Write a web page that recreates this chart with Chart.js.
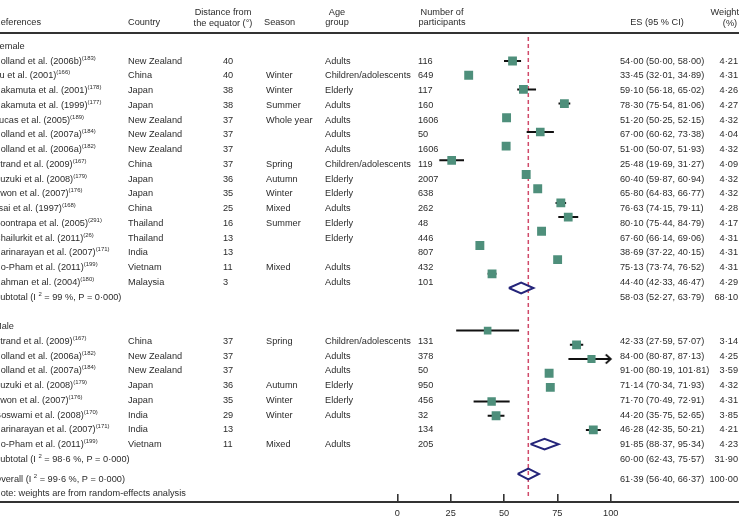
<!DOCTYPE html>
<html>
<head>
<meta charset="utf-8">
<script src="https://cdn.jsdelivr.net/npm/chart.js@4.4.1/dist/chart.umd.min.js"></script>
<style>
  html, body { margin: 0; padding: 0; background: #fff; }
  #wrap { width: 739px; height: 523px; }
</style>
</head>
<body>
<div id="wrap"><canvas id="forest" width="739" height="523"></canvas></div>
<script>
// female studies
const femaleRefs = ['Holland et al. (2006b)', 'Yu et al. (2001)', 'Nakamuta et al. (2001)', 'Nakamuta et al. (1999)',
  'Lucas et al. (2005)', 'Holland et al. (2007a)', 'Holland et al. (2006a)', 'Strand et al. (2009)',
  'Suzuki et al. (2008)', 'Kwon et al. (2007)', 'Tsai et al. (1997)', 'Soontrapa et al. (2005)',
  'Chailurkit et al. (2011)', 'Harinarayan et al. (2007)', 'Ho-Pham et al. (2011)', 'Rahman et al. (2004)'];
const femaleCites = ['183', '166', '178', '177', '189', '184', '182', '167', '179', '176', '168', '291', '26', '171', '199', '180'];
const femaleCountry = ['New Zealand', 'China', 'Japan', 'Japan', 'New Zealand', 'New Zealand', 'New Zealand', 'China',
  'Japan', 'Japan', 'China', 'Thailand', 'Thailand', 'India', 'Vietnam', 'Malaysia'];
const femaleDist = [40, 40, 38, 38, 37, 37, 37, 37, 36, 35, 25, 16, 13, 13, 11, 3];
const femaleSeason = ['', 'Winter', 'Winter', 'Summer', 'Whole year', '', '', 'Spring', 'Autumn', 'Winter', 'Mixed', 'Summer', '', '', 'Mixed', ''];
const femaleAge = ['Adults', 'Children/adolescents', 'Elderly', 'Adults', 'Adults', 'Adults', 'Adults', 'Children/adolescents',
  'Elderly', 'Elderly', 'Adults', 'Elderly', 'Elderly', '', 'Adults', 'Adults'];
const femaleN = [116, 649, 117, 160, 1606, 50, 1606, 119, 2007, 638, 262, 48, 446, 807, 432, 101];
const femaleES = [54.00, 33.45, 59.10, 78.30, 51.20, 67.00, 51.00, 25.48, 60.40, 65.80, 76.63, 80.10, 67.60, 38.69, 75.13, 44.40];
const femaleLo = [50.00, 32.01, 56.18, 75.54, 50.25, 60.62, 50.07, 19.69, 59.87, 64.83, 74.15, 75.44, 66.14, 37.22, 73.74, 42.33];
const femaleHi = [58.00, 34.89, 65.02, 81.06, 52.15, 73.38, 51.93, 31.27, 60.94, 66.77, 79.11, 84.79, 69.06, 40.15, 76.52, 46.47];
const femaleW = [4.21, 4.31, 4.26, 4.27, 4.32, 4.04, 4.32, 4.09, 4.32, 4.32, 4.28, 4.17, 4.31, 4.31, 4.31, 4.29];

// male studies
const maleRefs = ['Strand et al. (2009)', 'Holland et al. (2006a)', 'Holland et al. (2007a)', 'Suzuki et al. (2008)',
  'Kwon et al. (2007)', 'Goswami et al. (2008)', 'Harinarayan et al. (2007)', 'Ho-Pham et al. (2011)'];
const maleCites = ['167', '182', '184', '179', '176', '170', '171', '199'];
const maleCountry = ['China', 'New Zealand', 'New Zealand', 'Japan', 'Japan', 'India', 'India', 'Vietnam'];
const maleDist = [37, 37, 37, 36, 35, 29, 13, 11];
const maleSeason = ['Spring', '', '', 'Autumn', 'Winter', 'Winter', '', 'Mixed'];
const maleAge = ['Children/adolescents', 'Adults', 'Adults', 'Elderly', 'Elderly', 'Adults', '', 'Adults'];
const maleN = [131, 378, 50, 950, 456, 32, 134, 205];
const maleES = [42.33, 84.00, 91.00, 71.14, 71.70, 44.20, 46.28, 91.85];
const maleLo = [27.59, 80.87, 80.19, 70.34, 70.49, 35.75, 42.35, 88.37];
const maleHi = [57.07, 87.13, 101.81, 71.93, 72.91, 52.65, 50.21, 95.34];
const maleW = [3.14, 4.25, 3.59, 4.32, 4.31, 3.85, 4.21, 4.23];

// pooled estimates: female subtotal, male subtotal
const subES = [58.03, 60.00];
const subLo = [52.27, 62.43];
const subHi = [63.79, 75.57];
const subW = [68.10, 31.90];
const subI2 = ['99', '98·6'];
const overallES = 61.39, overallLo = 56.40, overallHi = 66.37, overallW = 100.00;
const overallI2 = '99·6';

const xTicks = [0, 25, 50, 75, 100];

// ---- layout / style ----
const FONT = '"Liberation Sans", Arial, sans-serif';
const FS = 9.2;
const TEXT_COL = '#2b2b2b';
const SQUARE_COL = '#4e8f7b';
const DIAMOND_COL = '#25257a';
const REF_COL = '#d04a6a';
const X_MAX = 100;
const ROW0 = 61, MARK_STEP = 14.19, TEXT_STEP = 14.75;

const fmt = v => v.toFixed(2).replace('.', '·');

const femaleRows = femaleRefs.map((_, i) => i);
const maleRows = maleRefs.map((_, i) => 19 + i);
const subRows = [16, 27];
const overallTextRow = 28.35, noteRow = 29.3, overallMarkRow = 29.1;

const studies = [
  ...femaleES.map((v, i) => ({ es: v, lo: femaleLo[i], hi: femaleHi[i], w: femaleW[i], row: femaleRows[i] })),
  ...maleES.map((v, i) => ({ es: v, lo: maleLo[i], hi: maleHi[i], w: maleW[i], row: maleRows[i] }))
];

const squarePts = studies.map(s => ({ x: s.es, y: s.row }));
const squareR = studies.map(s => 6.3 * Math.sqrt(s.w / 4.32));

const ciPts = [];
studies.forEach(s => {
  ciPts.push({ x: s.lo, y: s.row }, { x: Math.min(s.hi, X_MAX), y: s.row }, { x: null, y: null });
});
const arrowPts = studies.filter(s => s.hi > X_MAX).map(s => ({ x: X_MAX, y: s.row }));

const pooled = [
  { lo: subLo[0], hi: subHi[0], row: subRows[0] },
  { lo: subLo[1], hi: subHi[1], row: subRows[1] },
  { lo: overallLo, hi: overallHi, row: overallMarkRow }
];
const dh = 0.38;
const diamondPts = [];
pooled.forEach(p => {
  const mid = (p.lo + p.hi) / 2;
  diamondPts.push({ x: p.lo, y: p.row }, { x: mid, y: p.row - dh }, { x: p.hi, y: p.row },
    { x: mid, y: p.row + dh }, { x: p.lo, y: p.row }, { x: null, y: null });
});

// arrow head for a CI running past the axis
const arrowImg = document.createElement('canvas');
arrowImg.width = 14; arrowImg.height = 14;
(() => {
  const c = arrowImg.getContext('2d');
  c.strokeStyle = '#111'; c.lineWidth = 1.8;
  c.beginPath(); c.moveTo(2, 2.5); c.lineTo(7, 7); c.lineTo(2, 11.5); c.stroke();
})();

function drawRich(ctx, parts, x, y) {
  let cx = x;
  parts.forEach(p => {
    if (p.sup) {
      ctx.font = `${FS * 0.65}px ${FONT}`;
      ctx.fillText(p.t, cx, y - 3);
    } else {
      ctx.font = `${FS}px ${FONT}`;
      ctx.fillText(p.t, cx, y);
    }
    cx += ctx.measureText(p.t).width;
  });
  ctx.font = `${FS}px ${FONT}`;
}

// row scales: row 0 sits at ROW0 px, each scale with its own row pitch
const rowScalePlugin = {
  id: 'rowScale',
  afterLayout(chart) {
    [['ym', MARK_STEP], ['yt', TEXT_STEP]].forEach(([id, step]) => {
      const s = chart.scales[id];
      s.min = (s.top - ROW0) / step;
      s.max = s.min + (s.bottom - s.top) / step;
      s.configure();
    });
  }
};

const tablePlugin = {
  id: 'table',
  afterDraw(chart) {
    const ctx = chart.ctx;
    const yt = chart.scales.yt;
    const area = chart.chartArea;
    ctx.save();
    ctx.fillStyle = '#333';
    ctx.fillRect(0, 32, 739, 2);
    ctx.fillRect(0, area.bottom + 7, 739, 2);

    ctx.fillStyle = TEXT_COL;
    ctx.textBaseline = 'middle';
    ctx.font = `${FS}px ${FONT}`;
    const put = (t, x, y, align) => { ctx.textAlign = align || 'left'; ctx.fillText(String(t), x, y); };

    // header
    put('References', -6, 22);
    put('Country', 128, 22);
    put('Distance from', 223, 12, 'center');
    put('the equator (°)', 223, 23, 'center');
    put('Season', 264, 22);
    put('Age', 337, 12, 'center');
    put('group', 337, 22, 'center');
    put('Number of', 442, 12, 'center');
    put('participants', 442, 22, 'center');
    put('ES (95 % CI)', 657, 22, 'center');
    put('Weight', 739, 12, 'right');
    put('(%)', 730, 23, 'center');

    const row = (ref, cite, country, dist, season, age, n, es, lo, hi, w, r) => {
      const y = yt.getPixelForValue(r);
      ctx.textAlign = 'left';
      drawRich(ctx, [{ t: ref }, { t: '(' + cite + ')', sup: true }], -6, y);
      put(country, 128, y);
      put(dist, 223, y);
      put(season, 266, y);
      put(age, 325, y);
      put(n, 418, y);
      put(`${fmt(es)} (${fmt(lo)}, ${fmt(hi)})`, 620, y);
      put(fmt(w), 738, y, 'right');
    };

    put('Female', -6, yt.getPixelForValue(-1));
    femaleRefs.forEach((ref, i) => row(ref, femaleCites[i], femaleCountry[i], femaleDist[i], femaleSeason[i],
      femaleAge[i], femaleN[i], femaleES[i], femaleLo[i], femaleHi[i], femaleW[i], femaleRows[i]));
    put('Male', -6, yt.getPixelForValue(18));
    maleRefs.forEach((ref, i) => row(ref, maleCites[i], maleCountry[i], maleDist[i], maleSeason[i],
      maleAge[i], maleN[i], maleES[i], maleLo[i], maleHi[i], maleW[i], maleRows[i]));

    subRows.forEach((r, k) => {
      const y = yt.getPixelForValue(r);
      ctx.textAlign = 'left';
      drawRich(ctx, [{ t: 'Subtotal (I ' }, { t: '2', sup: true }, { t: ` = ${subI2[k]} %, P = 0·000)` }], -6, y);
      put(`${fmt(subES[k])} (${fmt(subLo[k])}, ${fmt(subHi[k])})`, 620, y);
      put(fmt(subW[k]), 738, y, 'right');
    });

    let y = yt.getPixelForValue(overallTextRow);
    ctx.textAlign = 'left';
    drawRich(ctx, [{ t: 'Overall (I ' }, { t: '2', sup: true }, { t: ` = ${overallI2} %, P = 0·000)` }], -6, y);
    put(`${fmt(overallES)} (${fmt(overallLo)}, ${fmt(overallHi)})`, 620, y);
    put(fmt(overallW), 738, y, 'right');
    put('Note: weights are from random-effects analysis', -6, yt.getPixelForValue(noteRow));
    ctx.restore();
  }
};

const canvas = document.getElementById('forest');
new Chart(canvas, {
  type: 'scatter',
  data: {
    datasets: [
      {
        label: 'pooled',
        data: diamondPts,
        showLine: true,
        spanGaps: false,
        borderColor: DIAMOND_COL,
        borderWidth: 2,
        borderJoinStyle: 'miter',
        pointRadius: 0,
        fill: false,
        yAxisID: 'ym',
        order: 0
      },
      {
        label: 'studies',
        data: squarePts,
        pointStyle: 'rect',
        pointRadius: squareR,
        backgroundColor: SQUARE_COL,
        borderColor: SQUARE_COL,
        borderWidth: 0,
        yAxisID: 'ym',
        order: 1
      },
      {
        label: 'arrows',
        data: arrowPts,
        pointStyle: arrowImg,
        yAxisID: 'ym',
        clip: false,
        order: 1
      },
      {
        label: 'ci',
        data: ciPts,
        showLine: true,
        spanGaps: false,
        borderColor: '#111',
        borderWidth: 2,
        pointRadius: 0,
        yAxisID: 'ym',
        order: 2
      },
      {
        label: 'overall',
        data: [{ x: overallES, y: -1.7 }, { x: overallES, y: 30.8 }],
        showLine: true,
        borderColor: REF_COL,
        borderWidth: 1.5,
        borderDash: [4, 3],
        pointRadius: 0,
        yAxisID: 'ym',
        clip: false,
        order: 3
      }
    ]
  },
  options: {
    responsive: false,
    devicePixelRatio: 1,
    animation: false,
    layout: { padding: { left: 397.3, right: 128.3, top: 0, bottom: 0 } },
    plugins: { legend: { display: false }, tooltip: { enabled: false } },
    scales: {
      x: {
        type: 'linear',
        position: 'bottom',
        min: 0,
        max: X_MAX,
        afterFit: s => { s.height = 29; },
        afterBuildTicks: s => { s.ticks = xTicks.map(v => ({ value: v })); },
        ticks: { color: TEXT_COL, font: { family: FONT, size: FS }, padding: 6, maxRotation: 0 },
        grid: { drawOnChartArea: false, drawTicks: true, tickLength: 8, lineWidth: 1.6, color: '#333' },
        border: { display: false }
      },
      ym: { type: 'linear', display: false, reverse: true, min: 0, max: 30 },
      yt: { type: 'linear', display: false, reverse: true, min: 0, max: 30 }
    }
  },
  plugins: [rowScalePlugin, tablePlugin]
});
</script>
</body>
</html>
